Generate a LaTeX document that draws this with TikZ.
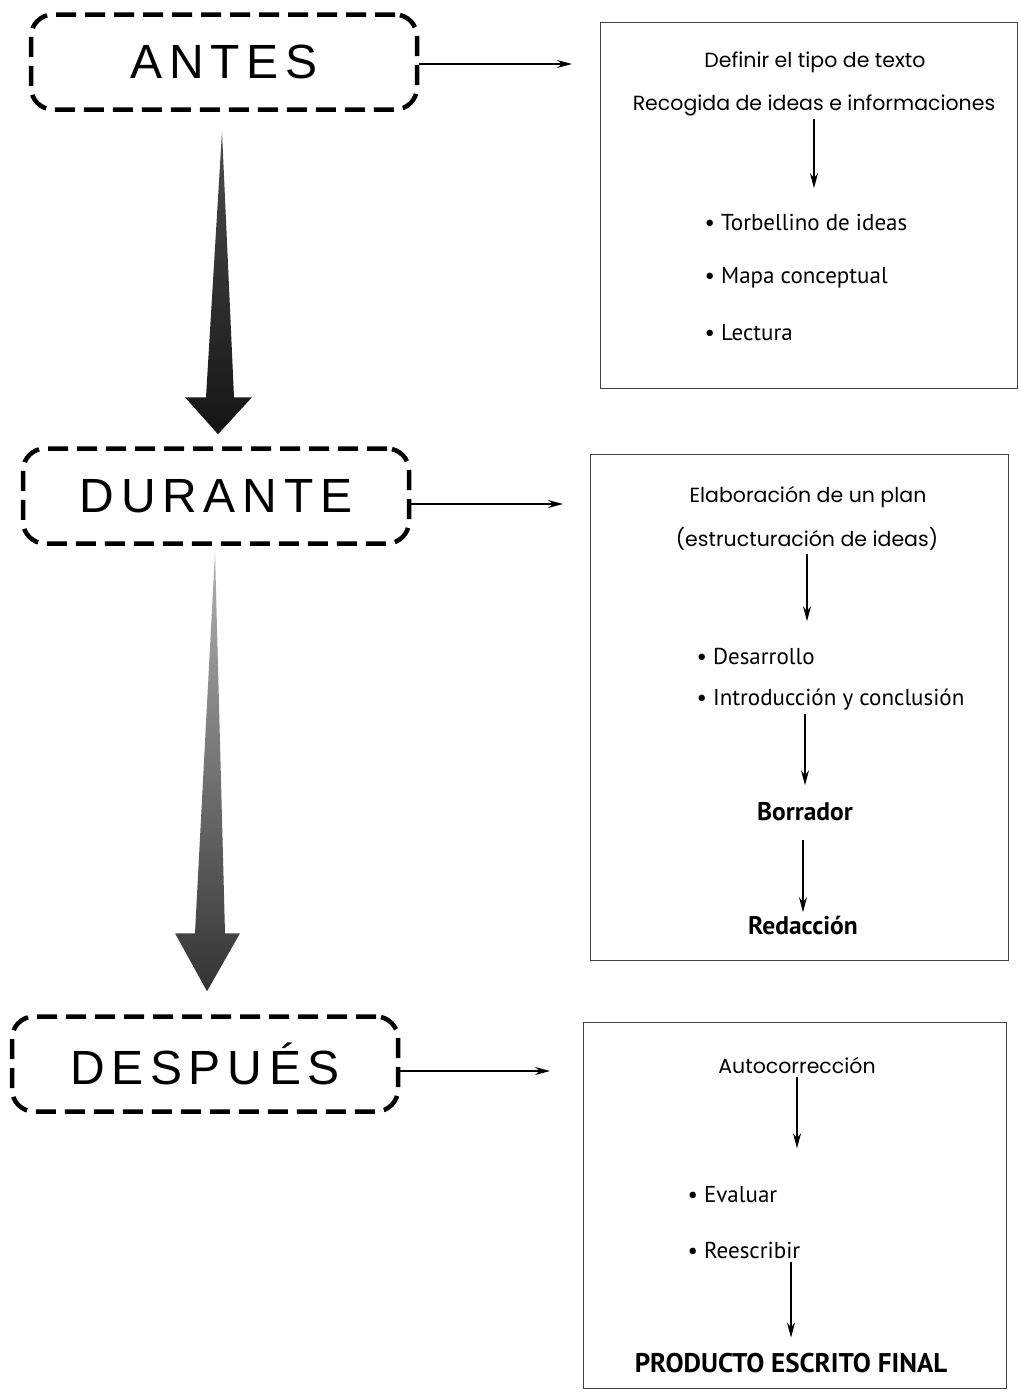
\documentclass[tikz,border=0pt]{standalone}
\usepackage{fontspec}
\setmainfont{PT Sans}
\newfontfamily\headfont{Poppins}
\newfontfamily\stagefont[LetterSpace=14]{Liberation Sans}
\usetikzlibrary{arrows.meta,positioning,calc}

\begin{document}
\begin{tikzpicture}[x=1pt,y=-1pt,>={Stealth[length=15pt,width=8pt]},
    stage/.style={draw,line width=4.5pt,dash pattern=on 20pt off 9pt,
                  rounded corners=22pt,minimum width=386pt,minimum height=95pt,
                  font=\stagefont\fontsize{48}{48}\selectfont},
    panel/.style={draw,line width=1pt,black!75},
    head/.style={font=\headfont\fontsize{20.5}{24}\selectfont},
    item/.style={anchor=west,font=\fontsize{23}{26}\selectfont},
    result/.style={font=\bfseries\fontsize{25.5}{28}\selectfont},
    link/.style={->,line width=1.2pt},
    bigarrow/.style={top color=black!70,bottom color=black!92}]
    \useasboundingbox[fill=white] (0,0) rectangle (1019,1392);

    % stages
    \node[stage] (antes) at (224,62) {ANTES};
    \node[stage] (durante) at (216,496) {DURANTE};
    \node[stage] (despues) at (205,1064) {DESPUÉS};

    % panels
    \node[panel,minimum width=417pt,minimum height=366pt] (panelA) at (808.5,205) {};
    \node[panel,minimum width=418pt,minimum height=506pt] (panelB) at (799,707) {};
    \node[panel,minimum width=423pt,minimum height=366pt] (panelC) at (794.5,1205) {};

    \coordinate (toA) at (572,64);
    \coordinate (toB) at (563,504);
    \coordinate (toC) at (550,1071);
    \draw[link] (antes.east |- toA) -- (toA);
    \draw[link] (durante.east |- toB) -- (toB);
    \draw[link] (despues.east |- toC) -- (toC);

    % big arrows between the stages
    \coordinate (a1top) at ($(antes.south)+(-2,20)$);
    \coordinate (a1tip) at ($(durante.north)+(2,-12)$);
    \shade[bigarrow] (a1top) -- ($(a1tip)+(16,-37)$) -- ($(a1tip)+(34,-37)$)
        -- (a1tip) -- ($(a1tip)+(-33,-37)$) -- ($(a1tip)+(-12,-37)$) -- cycle;
    \coordinate (a2top) at ($(durante.south)+(-1,6)$);
    \coordinate (a2tip) at ($(despues.north)+(2,-23)$);
    \shade[bigarrow,top color=black!30,bottom color=black!80] (a2top)
        -- ($(a2tip)+(18,-58)$) -- ($(a2tip)+(33,-58)$) -- (a2tip)
        -- ($(a2tip)+(-32,-58)$) -- ($(a2tip)+(-12,-58)$) -- cycle;

    % before
    \node[head] (tipo) at (815,62) {Definir el tipo de texto};
    \node[head] (recogida) at (814,105) {Recogida de ideas e informaciones};
    \node[item] (torbellino) at (701,222) {\textbullet\ Torbellino de ideas};
    \node[item] (mapa) at (701,278) {\textbullet\ Mapa conceptual};
    \node[item] (lectura) at (701,333) {\textbullet\ Lectura};
    \draw[link,shorten >=22pt] (recogida.south) -- (recogida.south |- torbellino.north);

    % during
    \node[head] (plan) at (808,497) {Elaboración de un plan};
    \node[head] (estruct) at (807,539) {(estructuración de ideas)};
    \node[item] (desarrollo) at (693,656) {\textbullet\ Desarrollo};
    \node[item] (intro) at (693,700) {\textbullet\ Introducción y conclusión};
    \node[result] (borrador) at (805,812) {Borrador};
    \node[result] (redaccion) at (803,925) {Redacción};
    \draw[link,shorten >=23pt] (estruct.south) -- (estruct.south |- desarrollo.north);
    \draw[link,shorten >=14pt] (borrador.north |- intro.south) -- (borrador.north);
    \draw[link,shorten <=15pt] (redaccion.north |- borrador.south) -- (redaccion.north);

    % after
    \node[head] (autocorr) at (797,1065) {Autocorrección};
    \node[item] (evaluar) at (684,1195) {\textbullet\ Evaluar};
    \node[item] (reescribir) at (684,1250) {\textbullet\ Reescribir};
    \node[result,font=\bfseries\fontsize{27}{30}\selectfont] (producto) at (791,1363)
        {PRODUCTO ESCRITO FINAL};
    \draw[link,shorten >=35pt] (autocorr.south) -- (autocorr.south |- evaluar.north);
    \draw[link,shorten >=12pt] (producto.north |- reescribir.south) -- (producto.north);
\end{tikzpicture}
\end{document}
